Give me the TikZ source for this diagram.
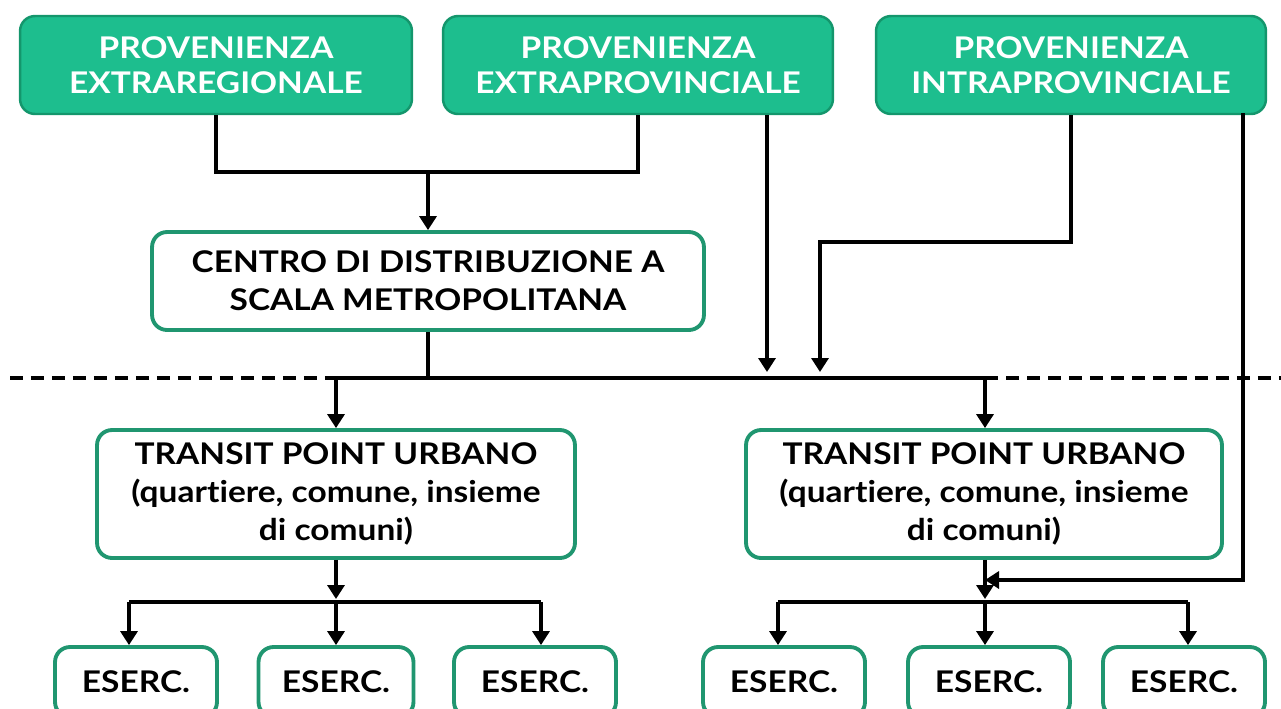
\documentclass[tikz,border=0pt]{standalone}
\usepackage{fontspec}
\setmainfont{Lato}[FakeStretch=1.12, Ligatures=NoCommon]
\usetikzlibrary{arrows.meta}
\definecolor{gfill}{RGB}{29,190,142}
\definecolor{gdark}{RGB}{20,150,108}
\definecolor{gline}{RGB}{32,150,112}
\begin{document}
\begin{tikzpicture}[x=0.02cm,y=-0.02cm,
  topbox/.style={draw=gdark, fill=gfill, line width=1.4pt, rounded corners=0.3cm, text=white,
    font=\bfseries\fontsize{17}{20}\selectfont, align=center, minimum height=1.96cm, inner sep=0pt},
  wbox/.style={draw=gline, fill=white, line width=2.2pt, rounded corners=0.3cm,
    font=\bfseries\fontsize{17}{21.5}\selectfont, align=center, inner sep=0pt},
  ebox/.style={wbox, minimum width=3.24cm, minimum height=1.4cm},
  conn/.style={line width=1.9pt},
  arr/.style={conn, -{Triangle[width=0.34cm,length=0.28cm]}},
  sep/.style={line width=1.8pt, dash pattern=on 0.26cm off 0.16cm}]
\useasboundingbox (0,0) rectangle (1281,708);
\clip (0,0) rectangle (1281,708);
% top boxes
\node[topbox, minimum width=7.84cm] (pe) at (216,65) {PROVENIENZA\\EXTRAREGIONALE};
\node[topbox, minimum width=7.80cm] (pp) at (638,65) {PROVENIENZA\\EXTRAPROVINCIALE};
\node[topbox, minimum width=7.80cm] (pi) at (1071,65) {PROVENIENZA\\INTRAPROVINCIALE};
% centro
\node[wbox, minimum width=11.04cm, minimum height=1.96cm] (cd) at (428,281) {CENTRO DI DISTRIBUZIONE A\\SCALA METROPOLITANA};
% transit points
\node[wbox, minimum width=9.56cm, minimum height=2.56cm] (tp1) at (336,494) {TRANSIT POINT URBANO\\(quartiere, comune, insieme\\di comuni)};
\node[wbox, minimum width=9.52cm, minimum height=2.56cm] (tp2) at (984,494) {TRANSIT POINT URBANO\\(quartiere, comune, insieme\\di comuni)};
% eserc
\node[ebox] (e1) at (136,682) {ESERC.};
\node[ebox, minimum width=3.10cm] (e2) at (336,682) {ESERC.};
\node[ebox] (e3) at (535,682) {ESERC.};
\node[ebox] (e4) at (784,682) {ESERC.};
\node[ebox] (e5) at (989,682) {ESERC.};
\node[ebox] (e6) at (1184,682) {ESERC.};
% coordinates
\coordinate (m1) at (428,172);
\coordinate (a2) at (767,372);
\coordinate (b1) at (820,242);
\coordinate (b2) at (820,372);
\coordinate (c1) at (1243,113);
\coordinate (c2) at (985,580);
\coordinate (h0) at (428,378);
\coordinate (h1) at (336,378);
\coordinate (h2) at (985,378);
\coordinate (dl) at (10,378);
\coordinate (dr) at (1281,378);
\coordinate (t1) at (336,599);
\coordinate (l1) at (129,602);
\coordinate (l2) at (336,602);
\coordinate (l3) at (541,602);
\coordinate (t2) at (985,599);
\coordinate (r1) at (778,602);
\coordinate (r2) at (985,602);
\coordinate (r3) at (1188,602);
% dashed separator
\draw[sep] (dl) -- (h1);
\draw[sep] (h2) -- (dr);
% connectors top
\draw[conn] (pe.south) |- (m1 -| pp.south) -- (pp.south);
\draw[arr] (m1) -- (m1 |- cd.north);
\draw[arr] (pp.south -| a2) -- (a2);
\draw[arr] (pi.south) |- (b1) -- (b2);
\draw[arr] (c1) |- (c2);
% middle
\draw[conn] (cd.south) -- (h0);
\draw[conn] (h1) -- (h2);
\draw[arr] (h1) -- (tp1.north);
\draw[arr] (h2) -- (tp2.north -| h2);
% left bottom
\draw[arr] (tp1.south) -- (t1);
\draw[conn] (l1) -- (l3);
\draw[arr] (l1) -- (l1 |- e1.north);
\draw[arr] (l2) -- (l2 |- e2.north);
\draw[arr] (l3) -- (l3 |- e3.north);
% right bottom
\draw[arr] (tp2.south -| t2) -- (t2);
\draw[conn] (r1) -- (r3);
\draw[arr] (r1) -- (r1 |- e4.north);
\draw[arr] (r2) -- (r2 |- e5.north);
\draw[arr] (r3) -- (r3 |- e6.north);
\end{tikzpicture}
\end{document}
